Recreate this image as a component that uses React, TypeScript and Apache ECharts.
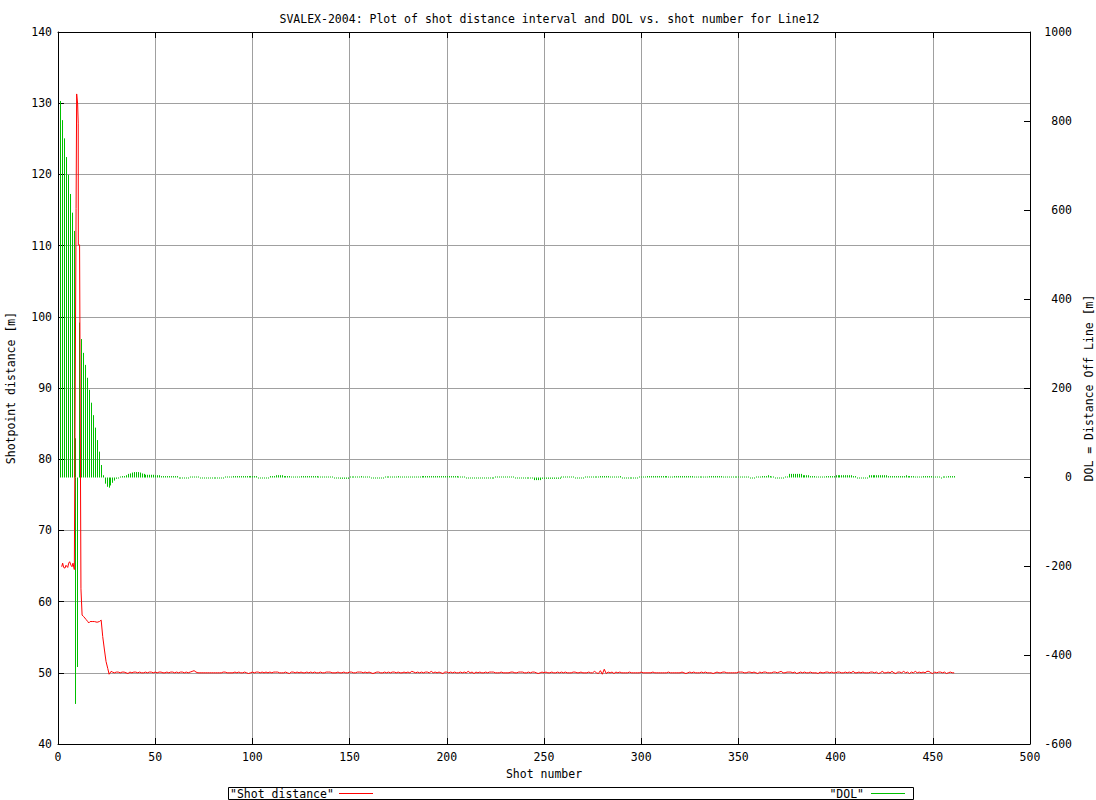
import React, { useEffect, useRef } from 'react'
import * as echarts from 'echarts'

const RED = '#ff0000'
const GREEN = '#00c000'
const GRID_GRAY = '#a0a0a0'
const FONT = 'DejaVu Sans Mono'

// DOL [m], one value per shot, starting at shot 1
const dolValues = [
    845, 802, 761, 719, 679, 636, 594, 553, -510, -427,
    347, 310, 279, 252, 223, 196, 167, 139, 111, 83,
    57, 27, 4, -15, -22, -24, -19, -13, -8, -4,
    -2, 1, 2, 2, 4, 7, 8, 10, 11, 11,
    11, 10, 8, 7, 5, 5, 5, 5, 5, 4,
    4, 4, 2, 2, 2, 2, 2, 2, 2, 2,
    2, -2, -2, -2, -2, -2, -2, 0, 0, 0,
    0, 0, -3, -3, -3, -3, -3, -3, -3, -2,
    -2, -2, -2, -2, -2, 0, 0, 0, 0, 2,
    2, 2, 2, 2, 2, 2, 2, 2, 2, 2,
    2, 2, -1, -1, -1, -1, -1, -1, 2, 2,
    2, 4, 4, 4, 4, 2, 2, 2, 2, 0,
    0, 0, 0, 0, 2, 2, 2, 2, 2, 2,
    2, 2, 2, 0, 0, 0, 0, 0, 0, 0,
    0, -2, -2, -2, -4, -4, -4, -4, -4, 1,
    1, 1, 1, 1, 1, 2, 0, 0, 0, 0,
    -2, -2, -2, -2, -2, -2, -2, 0, 0, 0,
    0, 0, 0, 0, 2, 0, 0, 0, 0, 0,
    0, 0, 0, 0, 0, 0, 2, 2, 2, 2,
    2, 2, 2, 2, 2, 2, 2, 2, 2, 2,
    2, 2, 2, 2, 2, 0, 0, 0, 0, -2,
    -2, -2, -2, -2, -2, -2, -2, -2, -2, -2,
    -2, -2, -2, -2, 0, 0, 0, 0, 0, 0,
    0, 0, 0, 0, -2, -2, -2, -2, -2, -2,
    -2, -2, -2, -2, -7, -7, -7, -7, -4, -4,
    -4, -4, -4, -4, -4, -4, -4, -4, 0, 0,
    0, 0, 0, 0, 0, -2, -2, -2, -2, -2,
    0, 0, 0, 0, 0, 0, 0, 0, 2, 2,
    2, 2, 2, 0, 0, 0, 0, 0, 2, -1,
    -1, -1, -1, -1, -2, -2, -2, -2, 0, 0,
    0, 0, 2, 2, 2, 2, 2, 2, 2, 2,
    2, 2, 2, 0, 0, 0, 2, 2, 2, 2,
    2, 2, 2, 2, 2, 2, 0, 0, 0, 0,
    0, 0, 0, 0, 2, 2, 2, 2, 2, 2,
    2, 0, 0, 0, 0, 0, 0, 0, 0, 0,
    0, 0, 0, 0, 0, -2, -2, -2, 0, 0,
    0, 2, 2, 2, 4, 2, 0, 0, -2, -2,
    -2, -2, -2, 0, 0, 7, 7, 7, 7, 7,
    7, 7, 4, 4, 4, 4, 2, 2, 2, 0,
    0, 0, 0, 0, 2, 2, 2, 2, 2, 4,
    4, 4, 4, 4, 4, 4, 4, 4, 2, 2,
    -2, -2, -2, -2, -2, -2, 4, 4, 4, 4,
    4, 4, 4, 4, 4, 4, 2, 2, 2, 2,
    2, 2, 2, 2, 2, 4, 2, 2, 2, 2,
    0, 0, 0, 0, 2, 2, 2, 2, 2, 0,
    0, 0, 0, -2, 0, 0, 0, 2, 2, 2,
    2,
]
// second DOL reading logged on shot 9
const dolExtra = [[9, 87]]

// shot distance [m] around the start of the line (shot, distance)
const distStart = [
    [1.9, 64.9], [2.4, 65.4], [2.9, 64.8], [3.6, 64.7], [4.1, 65.1], [5.0, 64.8],
    [5.5, 65.4], [6.0, 65.6], [6.7, 65.1], [7.2, 64.9], [7.7, 65.4], [8.4, 64.5],
    [9.3, 115.2], [9.6, 131.3], [10.1, 129.9], [10.4, 127.2], [10.45, 110.1], [11.1, 110.1],
    [11.8, 61.8], [12.4, 58.1], [13.2, 57.9], [14.4, 57.5], [15.3, 57.2], [15.8, 57.0],
    [16.5, 57.2], [17.9, 57.2], [18.7, 57.2], [20.1, 57.1], [21.3, 57.2], [22.2, 57.4],
    [23.0, 55.1], [23.9, 53.2], [24.7, 51.6], [25.6, 50.6], [26.3, 49.8], [27.3, 50.2],
]

// shot distance [m] from shot 28 onwards, one per shot
const distTailStart = 28
const distTail = [
    50.1, 50.0, 50.1, 50.1, 50.0, 50.1, 50.1, 50.0, 49.9, 50.1, 50.0, 50.1, 50.1, 50.0, 50.1, 50.0, 50.0, 50.1, 50.0, 50.1,
    50.1, 50.0, 50.1, 50.0, 50.1, 50.1, 50.0, 50.0, 50.1, 50.0, 50.1, 50.1, 50.0, 50.1, 50.0, 50.1, 50.1, 50.0, 50.1, 50.0,
    50.1, 50.2, 50.3, 50.1, 50.0, 50.0, 50.0, 50.0, 50.0, 50.0, 50.0, 50.0, 50.0, 50.0, 50.0, 50.0, 50.0, 50.1, 50.1, 50.0,
    50.0, 50.0, 50.0, 50.1, 50.0, 50.1, 50.0, 50.0, 50.1, 50.0, 49.9, 50.0, 50.1, 50.0, 50.1, 50.1, 50.0, 50.1, 50.0, 50.1,
    50.0, 50.1, 50.0, 50.1, 50.1, 50.1, 50.0, 50.0, 50.0, 50.1, 50.0, 49.9, 50.1, 50.1, 50.0, 50.1, 50.0, 50.1, 50.0, 50.0,
    50.1, 50.0, 50.1, 50.0, 50.1, 50.0, 50.0, 50.1, 50.0, 50.0, 50.1, 50.1, 50.1, 50.0, 50.0, 50.0, 50.1, 50.0, 50.0, 50.1,
    50.0, 50.0, 50.1, 50.1, 50.0, 50.0, 50.1, 50.1, 50.1, 50.0, 50.1, 50.0, 50.1, 50.0, 49.9, 50.0, 50.1, 50.1, 50.0, 50.0,
    50.1, 50.0, 50.1, 50.0, 50.1, 50.1, 50.0, 50.1, 50.0, 50.0, 50.1, 50.0, 50.1, 50.0, 50.2, 50.1, 50.0, 50.1, 50.0, 50.1,
    50.0, 50.1, 50.1, 50.0, 50.2, 50.0, 50.1, 50.0, 50.1, 50.0, 49.9, 50.1, 50.1, 50.0, 50.1, 50.0, 50.1, 50.0, 50.0, 50.1,
    50.0, 50.1, 50.0, 50.2, 50.0, 50.1, 49.9, 50.1, 50.0, 50.1, 50.0, 50.0, 50.1, 50.0, 50.1, 50.1, 50.1, 50.0, 50.0, 50.0,
    50.1, 50.0, 50.0, 50.0, 50.0, 50.1, 50.1, 50.0, 50.0, 50.1, 50.1, 50.1, 50.0, 50.0, 50.1, 50.0, 50.1, 50.1, 50.0, 49.9,
    50.0, 50.1, 50.0, 50.1, 50.0, 50.0, 50.1, 50.0, 50.0, 50.1, 50.0, 50.1, 50.0, 50.1, 50.0, 50.0, 50.0, 50.1, 50.1, 50.0,
    50.0, 50.1, 50.0, 50.0, 50.0, 50.1, 50.0, 50.0, 50.2, 50.0, 49.9, 50.3, 49.8, 50.5, 49.9, 50.1, 50.0, 50.1, 49.9, 50.1,
    50.0, 50.1, 50.0, 50.0, 50.0, 50.0, 50.1, 50.0, 50.0, 50.0, 50.0, 50.0, 50.1, 50.0, 50.0, 50.0, 50.0, 50.0, 50.1, 50.0,
    50.0, 50.0, 50.0, 50.0, 50.0, 50.0, 50.1, 50.0, 50.0, 50.0, 50.0, 50.0, 50.0, 50.1, 50.0, 49.9, 50.0, 50.1, 50.0, 50.1,
    50.0, 50.0, 50.0, 50.1, 50.0, 50.1, 50.0, 50.0, 50.0, 49.9, 50.0, 50.1, 50.0, 50.0, 50.1, 50.1, 50.0, 50.0, 50.0, 50.0,
    50.0, 50.0, 50.1, 50.1, 50.1, 50.0, 50.0, 50.1, 50.1, 50.0, 50.1, 50.0, 49.9, 50.1, 50.0, 50.1, 50.1, 50.0, 50.0, 50.0,
    50.1, 50.1, 50.0, 50.1, 50.2, 50.0, 50.0, 50.1, 50.1, 50.1, 50.0, 50.1, 49.9, 50.0, 50.1, 50.0, 50.1, 50.0, 50.0, 50.1,
    50.0, 50.0, 50.0, 49.9, 50.1, 50.0, 50.0, 50.1, 50.1, 50.0, 50.1, 50.0, 50.0, 50.1, 50.1, 50.0, 50.0, 50.1, 50.0, 50.1,
    50.0, 50.2, 50.0, 50.0, 50.1, 50.0, 50.1, 50.0, 50.0, 50.0, 50.1, 50.1, 50.0, 50.1, 49.9, 50.0, 50.2, 50.0, 50.0, 50.1,
    50.0, 50.2, 50.0, 49.9, 50.1, 50.1, 50.0, 50.2, 50.0, 50.1, 49.9, 50.1, 50.0, 50.2, 50.0, 50.1, 50.0, 50.1, 50.0, 50.2,
    50.2, 50.0, 49.9, 50.1, 50.0, 50.1, 50.1, 50.0, 50.1, 49.9, 50.0, 50.1, 50.0, 50.0,
]

const titleText = 'SVALEX-2004: Plot of shot distance interval and DOL vs. shot number for Line12'

const textStyle = { fontFamily: FONT, fontSize: 11.5, color: '#000' }
const blackLine = { show: true, onZero: false, lineStyle: { color: '#000', width: 1 } }
const innerTick = { show: true, inside: true, length: 6, lineStyle: { color: '#000' } }
const plainNumber = (v: number) => String(v)

const App: React.FC = () => {
    const chartRef = useRef<HTMLDivElement | null>(null)

    useEffect(() => {
        document.body.style.margin = '0'
        if (!chartRef.current) return
        const chart = echarts.init(chartRef.current, null, { renderer: 'svg' })

        const distData = distStart.concat(distTail.map((v, i) => [distTailStart + i, v]))
        const dolData = dolValues.map((v, i) => [i + 1, v]).concat(dolExtra)

        const option = {
            animation: false,
            backgroundColor: '#fff',
            title: {
                text: titleText,
                left: 544.5,
                top: 8,
                textAlign: 'center',
                textStyle: { ...textStyle, fontWeight: 'normal' },
            },
            grid: {
                left: 58,
                right: 66,
                top: 32,
                bottom: 56,
                containLabel: false,
                outerBoundsMode: 'none',
            },
            xAxis: [
                {
                    type: 'value',
                    position: 'bottom',
                    min: 0,
                    max: 500,
                    interval: 50,
                    name: 'Shot number',
                    nameLocation: 'middle',
                    nameGap: 19,
                    nameTextStyle: textStyle,
                    axisLine: blackLine,
                    axisTick: innerTick,
                    axisLabel: { ...textStyle, margin: 7, formatter: plainNumber },
                    splitLine: { show: true, lineStyle: { color: GRID_GRAY, width: 1 } },
                },
                {
                    type: 'value',
                    position: 'top',
                    min: 0,
                    max: 500,
                    interval: 50,
                    axisLine: blackLine,
                    axisTick: innerTick,
                    axisLabel: { show: false },
                    splitLine: { show: false },
                },
            ],
            yAxis: [
                {
                    type: 'value',
                    position: 'left',
                    min: 40,
                    max: 140,
                    interval: 10,
                    name: 'Shotpoint distance [m]',
                    nameLocation: 'middle',
                    nameRotate: 90,
                    nameGap: 41,
                    nameTextStyle: textStyle,
                    axisLine: blackLine,
                    axisTick: innerTick,
                    axisLabel: { ...textStyle, margin: 6, formatter: plainNumber },
                    splitLine: { show: true, lineStyle: { color: GRID_GRAY, width: 1 } },
                },
                {
                    type: 'value',
                    position: 'right',
                    min: -600,
                    max: 1000,
                    interval: 200,
                    name: 'DOL = Distance Off Line [m]',
                    nameLocation: 'middle',
                    nameRotate: 90,
                    nameGap: 41,
                    nameTextStyle: textStyle,
                    axisLine: blackLine,
                    axisTick: innerTick,
                    axisLabel: { ...textStyle, margin: 42, align: 'right', formatter: plainNumber },
                    splitLine: { show: false },
                },
            ],
            series: [
                {
                    name: 'Shot distance',
                    type: 'line',
                    xAxisIndex: 0,
                    yAxisIndex: 0,
                    data: distData,
                    showSymbol: false,
                    symbol: 'none',
                    lineStyle: { color: RED, width: 1 },
                    itemStyle: { color: RED },
                },
                {
                    name: 'DOL',
                    type: 'custom',
                    xAxisIndex: 0,
                    yAxisIndex: 1,
                    data: dolData,
                    encode: { x: 0, y: 1 },
                    renderItem: (_params: any, api: any) => {
                        const x = api.value(0)
                        const v = api.value(1)
                        const p0 = api.coord([x, 0])
                        const p1 = api.coord([x, v])
                        const base = Math.round(p0[1]) + 0.5
                        let end = p1[1]
                        if (Math.abs(end - base) < 1) end = v < 0 ? base + 1 : base - 1
                        const px = Math.round(p0[0]) + 0.5
                        return {
                            type: 'line',
                            shape: { x1: px, y1: base, x2: px, y2: end },
                            style: { stroke: GREEN, lineWidth: 1 },
                        }
                    },
                },
            ],
            graphic: [
                {
                    type: 'rect',
                    shape: { x: 228.5, y: 787.5, width: 685, height: 12 },
                    style: { fill: 'none', stroke: '#000', lineWidth: 1 },
                },
                {
                    type: 'text',
                    x: 230,
                    y: 793.5,
                    style: { text: '"Shot distance"', font: `11.5px "${FONT}"`, fill: '#000', verticalAlign: 'middle' },
                },
                {
                    type: 'line',
                    shape: { x1: 339, y1: 793.5, x2: 373, y2: 793.5 },
                    style: { stroke: RED, lineWidth: 1 },
                },
                {
                    type: 'text',
                    x: 864,
                    y: 793.5,
                    style: { text: '"DOL"', font: `11.5px "${FONT}"`, fill: '#000', align: 'right', verticalAlign: 'middle' },
                },
                {
                    type: 'line',
                    shape: { x1: 871, y1: 793.5, x2: 905, y2: 793.5 },
                    style: { stroke: GREEN, lineWidth: 1 },
                },
            ],
        }

        // @ts-ignore
        chart.setOption(option)

        return () => {
            chart.dispose()
        }
    }, [])

    return <div ref={chartRef} style={{ width: 1096, height: 800 }} />
}

export default App
